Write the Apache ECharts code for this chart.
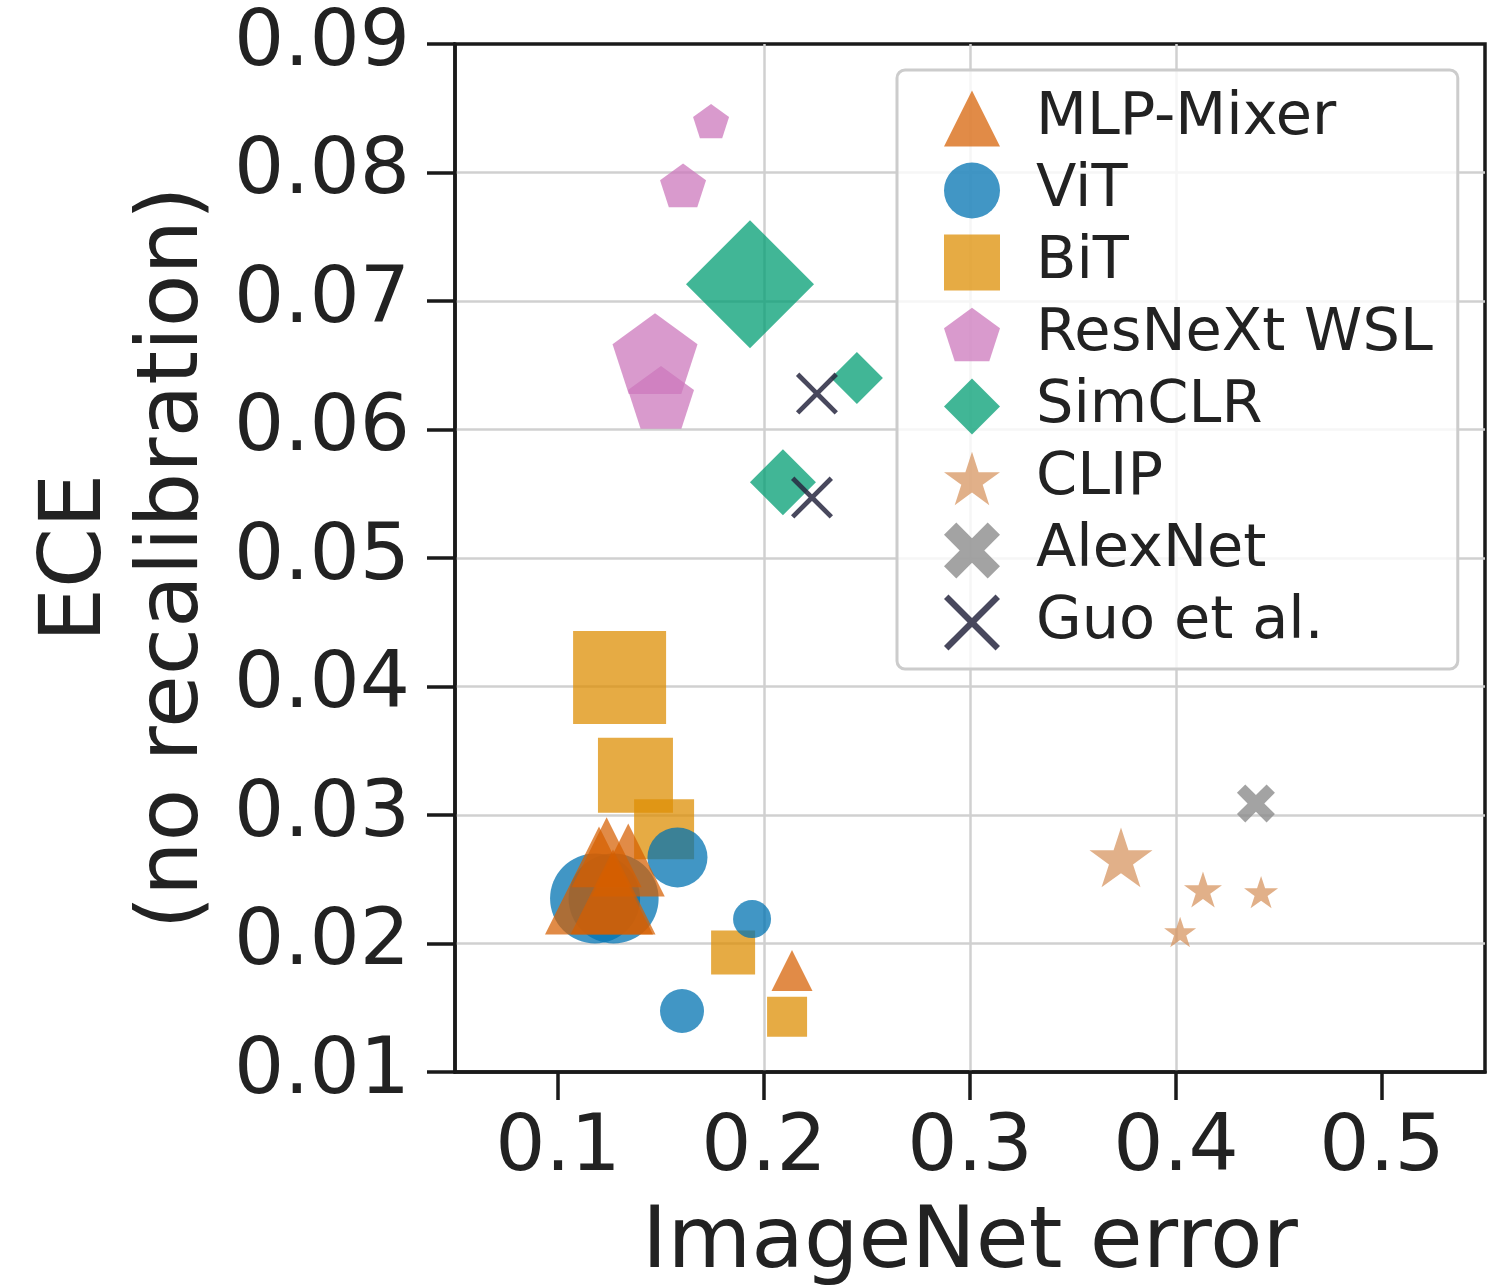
<!DOCTYPE html>
<html>
<head>
<meta charset="utf-8">
<script src="https://cdn.jsdelivr.net/npm/echarts@6/dist/echarts.min.js"></script>
<style>
  html, body { margin: 0; padding: 0; background: #fff; }
  #chart { width: 1491px; height: 1286px; }
</style>
</head>
<body>
<div id="chart"></div>
<script>
// ---- Data ----
const seriesNames = ['MLP-Mixer', 'ViT', 'BiT', 'ResNeXt WSL', 'SimCLR', 'CLIP', 'AlexNet', 'Guo et al.'];

const xTicks = [0.1, 0.2, 0.3, 0.4, 0.5];
const yTicks = [0.01, 0.02, 0.03, 0.04, 0.05, 0.06, 0.07, 0.08, 0.09];

// ImageNet error (x), ECE (y), marker size (model size encoding, px)
const mlpX = [0.1199, 0.1236, 0.1341, 0.1267, 0.2136];
const mlpY = [0.0249, 0.0271, 0.0265, 0.0240, 0.0179];
const mlpS = [108, 70, 73, 85, 41];

const vitX = [0.1180, 0.1270, 0.1580, 0.1942, 0.1602];
const vitY = [0.0235, 0.0235, 0.0267, 0.0219, 0.01475];
const vitS = [90, 90, 60, 38, 44];

const bitX = [0.1299, 0.1376, 0.1515, 0.1850, 0.2112];
const bitY = [0.0407, 0.0331, 0.0289, 0.0193, 0.0143];
const bitS = [93, 75, 60, 44, 40];

const resX = [0.1743, 0.1607, 0.1471, 0.1500];
const resY = [0.0840, 0.0790, 0.0659, 0.0625];
const resS = [36, 46, 85, 66];

const simX = [0.1932, 0.2451, 0.2092];
const simY = [0.0713, 0.0640, 0.0559];
const simS = [128, 52, 66];

const clipX = [0.3733, 0.4131, 0.4413, 0.4020];
const clipY = [0.0267, 0.0242, 0.0240, 0.0209];
const clipS = [63, 38, 34, 32];

const alexX = [0.4388];
const alexY = [0.0309];
const alexS = [38];

const guoX = [0.2257, 0.2233];
const guoY = [0.0628, 0.0547];
const guoS = [42, 42];

// ---- Styles ----
const FONT = 'DejaVu Sans';
const PENTAGON = 'path://M0,-100L95.1,-30.9L58.8,80.9L-58.8,80.9L-95.1,-30.9Z';
const STAR = 'path://M0,-100L22.45,-30.9L95.1,-30.9L36.3,11.8L58.8,80.9L0,38.2L-58.8,80.9L-36.3,11.8L-95.1,-30.9L-22.45,-30.9Z';
const THIN_X = 'path://M0,8L8,0L50,42L92,0L100,8L58,50L100,92L92,100L50,58L8,100L0,92L42,50Z';
const THICK_X = 'path://M0,22L22,0L50,28L78,0L100,22L72,50L100,78L78,100L50,72L22,100L0,78L28,50Z';

function mk(name, xs, ys, ss, symbol, color, z) {
  return {
    name: name,
    type: 'scatter',
    symbol: symbol,
    symbolKeepAspect: true,
    z: z,
    itemStyle: { color: color, opacity: 1 },
    emphasis: { disabled: true },
    data: xs.map((x, i) => ({ value: [x, ys[i]], symbolSize: ss[i] }))
  };
}

const series = [
  mk('MLP-Mixer', mlpX, mlpY, mlpS, 'triangle', 'rgba(213,94,0,0.72)', 5),
  mk('ViT', vitX, vitY, vitS, 'circle', 'rgba(1,115,178,0.75)', 4),
  mk('BiT', bitX, bitY, bitS, 'rect', 'rgba(222,143,5,0.75)', 3),
  mk('ResNeXt WSL', resX, resY, resS, PENTAGON, 'rgba(204,120,188,0.75)', 3),
  mk('SimCLR', simX, simY, simS, 'diamond', 'rgba(2,158,115,0.75)', 3),
  mk('CLIP', clipX, clipY, clipS, STAR, 'rgba(214,146,92,0.72)', 3),
  mk('AlexNet', alexX, alexY, alexS, THICK_X, 'rgba(140,140,140,0.8)', 3),
  mk('Guo et al.', guoX, guoY, guoS, THIN_X, 'rgba(40,40,65,0.85)', 6)
];

const chart = echarts.init(document.getElementById('chart'), null, { renderer: 'canvas' });
chart.setOption({
  animation: false,
  backgroundColor: '#ffffff',
  textStyle: { fontFamily: FONT },
  grid: {
    left: 455, right: 6, top: 44, bottom: 214,
    containLabel: false, outerBoundsMode: 'none',
    show: true, borderColor: '#1a1a1a', borderWidth: 3.5, backgroundColor: 'transparent'
  },
  legend: {
    orient: 'vertical',
    left: 897, top: 70,
    padding: [19, 25, 17, 47],
    itemWidth: 56, itemHeight: 56, itemGap: 13,
    backgroundColor: 'rgba(255,255,255,0.8)',
    borderColor: '#cccccc', borderWidth: 3, borderRadius: 8,
    textStyle: { fontFamily: FONT, fontSize: 59, color: '#222', padding: [0, 0, 0, 31] },
    data: seriesNames
  },
  xAxis: {
    type: 'value',
    min: 0.05, max: 0.55,
    name: 'ImageNet error',
    nameLocation: 'middle',
    nameGap: 130,
    nameTextStyle: { fontFamily: FONT, fontSize: 86, color: '#222' },
    axisLine: { show: true, onZero: false, lineStyle: { color: '#1a1a1a', width: 3.5 } },
    axisTick: { show: true, length: 28, customValues: xTicks, lineStyle: { color: '#1a1a1a', width: 3.5 } },
    axisLabel: { customValues: xTicks, formatter: v => v.toFixed(1), fontFamily: FONT, fontSize: 79, color: '#222', margin: 38 },
    splitLine: { show: true, showMinLine: false, showMaxLine: false, lineStyle: { color: '#d0d0d0', width: 2.5 } }
  },
  yAxis: {
    type: 'value',
    min: 0.01, max: 0.09, interval: 0.01,
    name: 'ECE\n(no recalibration)',
    nameLocation: 'middle',
    nameGap: 211,
    nameTextStyle: { fontFamily: FONT, fontSize: 86, lineHeight: 97, color: '#222', align: 'center' },
    axisLine: { show: true, onZero: false, lineStyle: { color: '#1a1a1a', width: 3.5 } },
    axisTick: { show: true, length: 28, lineStyle: { color: '#1a1a1a', width: 3.5 } },
    axisLabel: { formatter: v => v.toFixed(2), fontFamily: FONT, fontSize: 79, color: '#222', margin: 45 },
    splitLine: { show: true, showMinLine: false, showMaxLine: false, lineStyle: { color: '#d0d0d0', width: 2.5 } }
  },
  series: series
});
</script>
</body>
</html>
